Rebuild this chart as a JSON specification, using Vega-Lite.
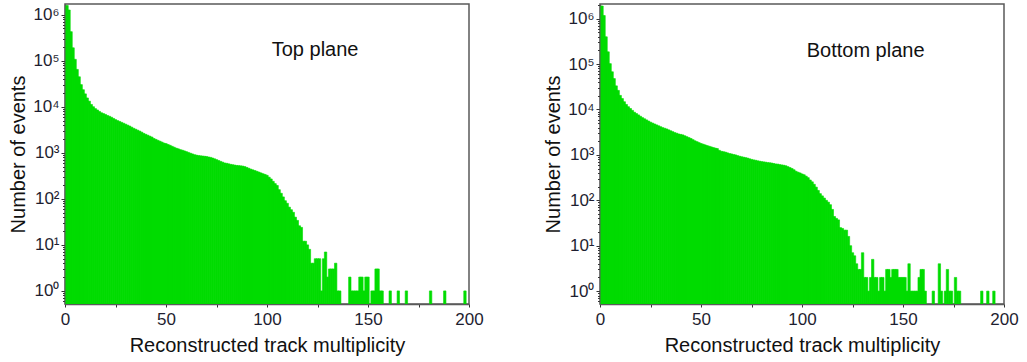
{
  "$schema": "https://vega.github.io/schema/vega-lite/v6.json",
  "padding": {"left": 8, "top": 3, "right": 5, "bottom": 5},
  "background": "white",
  "spacing": 59,
  "config": {
    "font": "Liberation Sans",
    "view": {"stroke": "#5a5a5a", "strokeWidth": 1.5},
    "axis": {
      "grid": false,
      "domainColor": "#5a5a5a",
      "domainWidth": 1.5,
      "tickColor": "#333333",
      "tickWidth": 1,
      "labelColor": "#1e1e30",
      "labelFontSize": 17,
      "titleFontSize": 20,
      "titleFontWeight": "normal",
      "titleColor": "#111111",
      "labelOverlap": false,
      "labelFlush": false
    }
  },
  "datasets": {
    "planeTop": [
      {"m":1,"n":1580000},{"m":2,"n":1260000},{"m":3,"n":427000},{"m":4,"n":190000},{"m":5,"n":107000},{"m":6,"n":64600},{"m":7,"n":44700},{"m":8,"n":30200},{"m":9,"n":23400},{"m":10,"n":19000},
      {"m":11,"n":15500},{"m":12,"n":13200},{"m":13,"n":11200},{"m":14,"n":10000},{"m":15,"n":9100},{"m":16,"n":8500},{"m":17,"n":7900},{"m":18,"n":7400},{"m":19,"n":7100},{"m":20,"n":6800},
      {"m":21,"n":6450},{"m":22,"n":6200},{"m":23,"n":5900},{"m":24,"n":5560},{"m":25,"n":5250},{"m":26,"n":5000},{"m":27,"n":4790},{"m":28,"n":4570},{"m":29,"n":4370},{"m":30,"n":4170},
      {"m":31,"n":3980},{"m":32,"n":3800},{"m":33,"n":3590},{"m":34,"n":3390},{"m":35,"n":3240},{"m":36,"n":3090},{"m":37,"n":2950},{"m":38,"n":2790},{"m":39,"n":2630},{"m":40,"n":2510},
      {"m":41,"n":2400},{"m":42,"n":2290},{"m":43,"n":2190},{"m":44,"n":2040},{"m":45,"n":1950},{"m":46,"n":1860},{"m":47,"n":1780},{"m":48,"n":1700},{"m":49,"n":1620},{"m":50,"n":1580},
      {"m":51,"n":1510},{"m":52,"n":1450},{"m":53,"n":1380},{"m":54,"n":1320},{"m":55,"n":1260},{"m":56,"n":1220},{"m":57,"n":1170},{"m":58,"n":1140},{"m":59,"n":1100},{"m":60,"n":1060},
      {"m":61,"n":1020},{"m":62,"n":980},{"m":63,"n":945},{"m":64,"n":910},{"m":65,"n":890},{"m":66,"n":870},{"m":67,"n":860},{"m":68,"n":850},{"m":69,"n":840},{"m":70,"n":830},
      {"m":71,"n":810},{"m":72,"n":795},{"m":73,"n":770},{"m":74,"n":740},{"m":75,"n":710},{"m":76,"n":680},{"m":77,"n":650},{"m":78,"n":625},{"m":79,"n":600},{"m":80,"n":590},
      {"m":81,"n":575},{"m":82,"n":560},{"m":83,"n":550},{"m":84,"n":540},{"m":85,"n":530},{"m":86,"n":525},{"m":87,"n":520},{"m":88,"n":513},{"m":89,"n":500},{"m":90,"n":480},
      {"m":91,"n":460},{"m":92,"n":440},{"m":93,"n":425},{"m":94,"n":410},{"m":95,"n":395},{"m":96,"n":380},{"m":97,"n":365},{"m":98,"n":350},{"m":99,"n":338},{"m":100,"n":324},
      {"m":101,"n":295},{"m":102,"n":270},{"m":103,"n":240},{"m":104,"n":214},{"m":105,"n":195},{"m":106,"n":158},{"m":107,"n":132},{"m":108,"n":110},{"m":109,"n":91},{"m":110,"n":80},
      {"m":111,"n":66},{"m":112,"n":58},{"m":113,"n":51},{"m":114,"n":40},{"m":115,"n":34},{"m":116,"n":26},{"m":117,"n":24},{"m":118,"n":12},{"m":119,"n":12},{"m":120,"n":10},
      {"m":121,"n":8},{"m":122,"n":4},{"m":123,"n":4},{"m":124,"n":5},{"m":125,"n":5},{"m":126,"n":5},{"m":127,"n":1},{"m":128,"n":5},{"m":129,"n":7},{"m":130,"n":2},
      {"m":131,"n":3},{"m":132,"n":3},{"m":133,"n":3},{"m":134,"n":4},{"m":135,"n":1},{"m":136,"n":1},
      {"m":141,"n":2},{"m":142,"n":1},{"m":143,"n":1},{"m":144,"n":1},{"m":145,"n":1},{"m":146,"n":2},{"m":147,"n":2},{"m":148,"n":1},{"m":149,"n":2},{"m":150,"n":2},
      {"m":152,"n":1},{"m":153,"n":1},{"m":154,"n":3},{"m":155,"n":3},{"m":156,"n":1},{"m":157,"n":1},
      {"m":161,"n":1},{"m":165,"n":1},{"m":169,"n":1},{"m":181,"n":1},{"m":188,"n":1},{"m":198,"n":1}
    ],
    "planeBottom": [
      {"m":1,"n":1900000},{"m":2,"n":1170000},{"m":3,"n":398000},{"m":4,"n":186000},{"m":5,"n":102000},{"m":6,"n":67600},{"m":7,"n":47900},{"m":8,"n":33100},{"m":9,"n":26300},{"m":10,"n":20400},
      {"m":11,"n":17400},{"m":12,"n":14800},{"m":13,"n":12900},{"m":14,"n":11500},{"m":15,"n":10500},{"m":16,"n":9550},{"m":17,"n":8700},{"m":18,"n":8130},{"m":19,"n":7590},{"m":20,"n":7080},
      {"m":21,"n":6610},{"m":22,"n":6240},{"m":23,"n":5890},{"m":24,"n":5560},{"m":25,"n":5250},{"m":26,"n":5010},{"m":27,"n":4790},{"m":28,"n":4570},{"m":29,"n":4370},{"m":30,"n":4170},
      {"m":31,"n":3980},{"m":32,"n":3850},{"m":33,"n":3720},{"m":34,"n":3550},{"m":35,"n":3390},{"m":36,"n":3240},{"m":37,"n":3090},{"m":38,"n":2990},{"m":39,"n":2880},{"m":40,"n":2820},
      {"m":41,"n":2750},{"m":42,"n":2630},{"m":43,"n":2510},{"m":44,"n":2400},{"m":45,"n":2290},{"m":46,"n":2160},{"m":47,"n":2040},{"m":48,"n":1950},{"m":49,"n":1860},{"m":50,"n":1780},
      {"m":51,"n":1720},{"m":52,"n":1660},{"m":53,"n":1600},{"m":54,"n":1550},{"m":55,"n":1500},{"m":56,"n":1450},{"m":57,"n":1410},{"m":58,"n":1380},{"m":59,"n":1260},{"m":60,"n":1200},
      {"m":61,"n":1175},{"m":62,"n":1150},{"m":63,"n":1110},{"m":64,"n":1070},{"m":65,"n":1050},{"m":66,"n":1020},{"m":67,"n":1000},{"m":68,"n":965},{"m":69,"n":935},{"m":70,"n":910},
      {"m":71,"n":890},{"m":72,"n":870},{"m":73,"n":850},{"m":74,"n":820},{"m":75,"n":795},{"m":76,"n":775},{"m":77,"n":760},{"m":78,"n":740},{"m":79,"n":725},{"m":80,"n":710},
      {"m":81,"n":700},{"m":82,"n":690},{"m":83,"n":675},{"m":84,"n":670},{"m":85,"n":660},{"m":86,"n":645},{"m":87,"n":630},{"m":88,"n":625},{"m":89,"n":610},{"m":90,"n":600},
      {"m":91,"n":590},{"m":92,"n":575},{"m":93,"n":550},{"m":94,"n":525},{"m":95,"n":500},{"m":96,"n":470},{"m":97,"n":435},{"m":98,"n":415},{"m":99,"n":400},{"m":100,"n":380},
      {"m":101,"n":365},{"m":102,"n":340},{"m":103,"n":315},{"m":104,"n":280},{"m":105,"n":255},{"m":106,"n":225},{"m":107,"n":195},{"m":108,"n":165},{"m":109,"n":140},{"m":110,"n":125},
      {"m":111,"n":112},{"m":112,"n":100},{"m":113,"n":91},{"m":114,"n":80},{"m":115,"n":63},{"m":116,"n":44},{"m":117,"n":40},{"m":118,"n":37},{"m":119,"n":25},{"m":120,"n":24},
      {"m":121,"n":22},{"m":122,"n":22},{"m":123,"n":16},{"m":124,"n":10},{"m":125,"n":7},{"m":126,"n":6},{"m":127,"n":4},{"m":128,"n":3},{"m":129,"n":3},{"m":130,"n":7},
      {"m":131,"n":2},{"m":132,"n":2},{"m":133,"n":1},{"m":134,"n":2},{"m":135,"n":5},{"m":136,"n":2},{"m":137,"n":2},{"m":138,"n":1},{"m":139,"n":2},{"m":140,"n":2},
      {"m":141,"n":1},{"m":142,"n":3},{"m":143,"n":3},{"m":144,"n":2},{"m":145,"n":3},{"m":146,"n":3},{"m":147,"n":3},{"m":148,"n":2},{"m":149,"n":2},{"m":150,"n":2},
      {"m":151,"n":2},{"m":152,"n":1},{"m":153,"n":4},{"m":154,"n":1},{"m":155,"n":1},{"m":156,"n":1},{"m":157,"n":1},{"m":158,"n":2},{"m":159,"n":3},{"m":160,"n":3},
      {"m":161,"n":1},{"m":165,"n":1},{"m":168,"n":4},{"m":169,"n":1},{"m":171,"n":1},{"m":172,"n":3},{"m":173,"n":1},{"m":174,"n":1},{"m":176,"n":2},{"m":177,"n":1},{"m":178,"n":1},
      {"m":189,"n":1},{"m":192,"n":1},{"m":195,"n":1}
    ]
  },
  "hconcat": [
    {
      "width": 404,
      "height": 300,
      "layer": [
        {
          "data": {"name": "planeTop"},
          "mark": {"type": "bar", "width": 2.4, "color": "#00dc00", "stroke": "#00dc00", "strokeWidth": 0.6, "clip": true},
          "encoding": {
            "x": {"field": "m", "type": "quantitative", "title": "Reconstructed track multiplicity",
              "scale": {"domain": [0, 200], "nice": false, "zero": false, "padding": 0},
              "axis": {"values": [0,25,50,75,100,125,150,175,200], "labelExpr": "datum.value % 50 === 0 ? datum.label : ''", "tickSize": 3, "labelPadding": 4, "titlePadding": 8}},
            "y": {"field": "n", "type": "quantitative", "title": "Number of events",
              "scale": {"type": "log", "domain": [0.52, 1700000], "nice": false},
              "axis": {"values": [0.6,0.7,0.8,0.9,1,2,3,4,5,6,7,8,9,10,20,30,40,50,60,70,80,90,100,200,300,400,500,600,700,800,900,1000,2000,3000,4000,5000,6000,7000,8000,9000,10000,20000,30000,40000,50000,60000,70000,80000,90000,100000,200000,300000,400000,500000,600000,700000,800000,900000,1000000],
                "labelExpr": "abs(log(datum.value)/LN10 - round(log(datum.value)/LN10)) < 0.001 ? '10' + ['⁰','¹','²','³','⁴','⁵','⁶'][round(log(datum.value)/LN10)] : ''",
                "labelFontSize": {"condition": {"test": "abs(log(datum.value)/LN10 - round(log(datum.value)/LN10)) < 0.001", "value": 17}, "value": 0},
                "tickSize": {"condition": {"test": "abs(log(datum.value)/LN10 - round(log(datum.value)/LN10)) < 0.001", "value": 4}, "value": 2.5},
                "labelPadding": 2, "titlePadding": 4}},
            "y2": {"datum": 0.52}
          }
        },
        {
          "data": {"values": [{}]},
          "mark": {"type": "text", "fontSize": 20, "align": "center", "baseline": "alphabetic", "color": "#111111"},
          "encoding": {
            "x": {"datum": 123.8, "type": "quantitative"},
            "y": {"datum": 125000, "type": "quantitative"},
            "text": {"value": "Top plane"}
          }
        }
      ]
    },
    {
      "width": 404,
      "height": 300,
      "layer": [
        {
          "data": {"name": "planeBottom"},
          "mark": {"type": "bar", "width": 2.4, "color": "#00dc00", "stroke": "#00dc00", "strokeWidth": 0.6, "clip": true},
          "encoding": {
            "x": {"field": "m", "type": "quantitative", "title": "Reconstructed track multiplicity",
              "scale": {"domain": [0, 200], "nice": false, "zero": false, "padding": 0},
              "axis": {"values": [0,25,50,75,100,125,150,175,200], "labelExpr": "datum.value % 50 === 0 ? datum.label : ''", "tickSize": 3, "labelPadding": 4, "titlePadding": 8}},
            "y": {"field": "n", "type": "quantitative", "title": "Number of events",
              "scale": {"type": "log", "domain": [0.52, 2100000], "nice": false},
              "axis": {"values": [0.6,0.7,0.8,0.9,1,2,3,4,5,6,7,8,9,10,20,30,40,50,60,70,80,90,100,200,300,400,500,600,700,800,900,1000,2000,3000,4000,5000,6000,7000,8000,9000,10000,20000,30000,40000,50000,60000,70000,80000,90000,100000,200000,300000,400000,500000,600000,700000,800000,900000,1000000,2000000],
                "labelExpr": "abs(log(datum.value)/LN10 - round(log(datum.value)/LN10)) < 0.001 ? '10' + ['⁰','¹','²','³','⁴','⁵','⁶'][round(log(datum.value)/LN10)] : ''",
                "labelFontSize": {"condition": {"test": "abs(log(datum.value)/LN10 - round(log(datum.value)/LN10)) < 0.001", "value": 17}, "value": 0},
                "tickSize": {"condition": {"test": "abs(log(datum.value)/LN10 - round(log(datum.value)/LN10)) < 0.001", "value": 4}, "value": 2.5},
                "labelPadding": 2, "titlePadding": 4}},
            "y2": {"datum": 0.52}
          }
        },
        {
          "data": {"values": [{}]},
          "mark": {"type": "text", "fontSize": 20, "align": "center", "baseline": "alphabetic", "color": "#111111"},
          "encoding": {
            "x": {"datum": 131.5, "type": "quantitative"},
            "y": {"datum": 145000, "type": "quantitative"},
            "text": {"value": "Bottom plane"}
          }
        }
      ]
    }
  ]
}
